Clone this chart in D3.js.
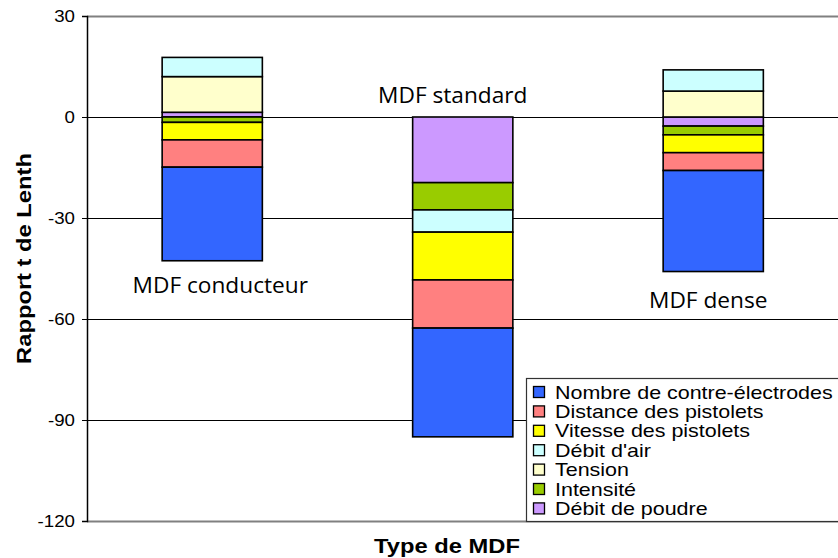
<!DOCTYPE html>
<html><head><meta charset="utf-8">
<script src="https://cdn.jsdelivr.net/npm/d3@7"></script>
<style>body{margin:0;background:#fff}svg{display:block}</style>
</head><body><svg id="c" width="838" height="558"></svg>
<script>
const categories = ["MDF conducteur", "MDF standard", "MDF dense"];
// series in stacking order (first = closest to zero)
const debitPoudre = [1.4, -19.5, -2.7];
const intensite = [-1.6, -8.1, -2.6];
const tension = [10.6, 0, 7.7];
const debitAir = [5.7, -6.6, 6.3];
const vitesse = [-5.2, -14.2, -5.3];
const distance = [-8.1, -14.3, -5.3];
const nombre = [-27.8, -32.3, -30.0];
const seriesNames = ["Débit de poudre", "Intensité", "Tension", "Débit d'air", "Vitesse des pistolets", "Distance des pistolets", "Nombre de contre-électrodes"];
const seriesValues = [debitPoudre, intensite, tension, debitAir, vitesse, distance, nombre];
const seriesColors = ["#CC99FF", "#99CC00", "#FFFFCC", "#CCFFFF", "#FFFF00", "#FF8080", "#3366FF"];
const yTicks = [30, 0, -30, -60, -90, -120];

(function () {
const labelOffsets = [32, -14, 36];
const svg = d3.select("#c");
const mLeft = 87, mRight = 838.5, mTop = 16, mBottom = 521;
const ARIAL = "Liberation Sans, Arial, sans-serif";
const x = d3.scaleBand().domain(categories).range([mLeft, mRight]).paddingInner(0.6).paddingOuter(0.3);
const y = d3.scaleLinear().domain([-120, 30]).range([mBottom, mTop]);

const rows = categories.map((c, i) => {
  const r = {cat: c};
  seriesNames.forEach((s, j) => r[s] = seriesValues[j][i]);
  return r;
});
const stack = d3.stack().keys(seriesNames).offset(d3.stackOffsetDiverging)(rows);

// grid lines
svg.append("g").selectAll("line").data(yTicks).join("line")
  .attr("x1", mLeft).attr("x2", mRight)
  .attr("y1", d => Math.round(y(d)) + 0.5).attr("y2", d => Math.round(y(d)) + 0.5)
  .attr("stroke", d => (d === 30 || d === -120) ? "#808080" : "#000")
  .attr("stroke-width", d => (d === 30 || d === -120) ? 2 : 1);

// bars
stack.forEach((layer, j) => {
  svg.append("g").selectAll("rect").data(layer).join("rect")
    .attr("x", d => x(d.data.cat))
    .attr("width", x.bandwidth())
    .attr("y", d => y(Math.max(d[0], d[1])))
    .attr("height", d => Math.abs(y(d[0]) - y(d[1])))
    .attr("fill", seriesColors[j])
    .attr("stroke", d => d[0] === d[1] ? "none" : "#000")
    .attr("stroke-width", 1.6);
});

// y axis
const yAxis = d3.axisLeft(y).tickValues(yTicks).tickFormat(d => String(d)).tickSize(5).tickPadding(7);
const ga = svg.append("g").attr("transform", `translate(${mLeft},0)`).call(yAxis);
ga.select(".domain").attr("stroke", "#000").attr("stroke-width", 1.5);
ga.selectAll(".tick line").attr("stroke", "#000");
ga.selectAll(".tick text").attr("font-family", ARIAL).attr("font-size", 17).attr("fill", "#000")
  .attr("transform", "scale(1.1,1)").attr("x", -12 / 1.1);

function stretchedText(px, py, sx, rot) {
  return svg.append("text")
    .attr("transform", `translate(${px},${py})${rot ? " rotate(" + rot + ")" : ""} scale(${sx},1)`);
}

// axis titles
stretchedText(31, (mTop + mBottom) / 2 - 10, 1.13, -90)
  .attr("text-anchor", "middle").attr("font-family", ARIAL)
  .attr("font-weight", "bold").attr("font-size", 21).text("Rapport t de Lenth");
stretchedText(447, 553, 1.13, 0)
  .attr("text-anchor", "middle").attr("font-family", ARIAL)
  .attr("font-weight", "bold").attr("font-size", 21).text("Type de MDF");

// category labels
const lblDx = [8, -10, -5];
categories.forEach((c, i) => {
  const layerMin = d3.min(stack, l => l[i][0]);
  const base = labelOffsets[i] < 0 ? y(0) : y(layerMin);
  stretchedText(x(c) + x.bandwidth() / 2 + lblDx[i], base + labelOffsets[i], 1.08, 0)
    .attr("text-anchor", "middle").attr("font-family", "Open Sans, sans-serif")
    .attr("font-size", 21).attr("fill", "#000").text(c);
});

// legend
const lg = svg.append("g");
lg.append("rect").attr("x", 526.5).attr("y", 378.5).attr("width", 330).attr("height", 143)
  .attr("fill", "#fff").attr("stroke", "#333").attr("stroke-width", 1.2);
const legendOrder = d3.range(seriesNames.length).reverse();
legendOrder.forEach((j, k) => {
  const cy = 392 + k * 19.4;
  lg.append("rect").attr("x", 533.5).attr("y", cy - 5.5).attr("width", 11).attr("height", 11)
    .attr("fill", seriesColors[j]).attr("stroke", "#000").attr("stroke-width", 1.3);
  lg.append("text").attr("transform", `translate(555,${cy + 6.5}) scale(1.16,1)`)
    .attr("font-family", ARIAL).attr("font-size", 18.5).attr("fill", "#000").text(seriesNames[j]);
});
})();
</script></body></html>
